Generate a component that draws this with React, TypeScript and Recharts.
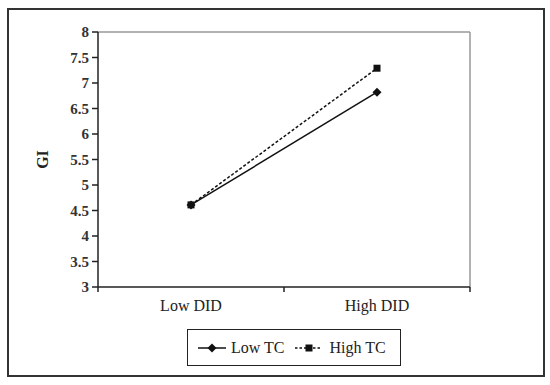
import React from 'react';
import { LineChart, Line, XAxis, YAxis, ReferenceLine } from 'recharts';

// categories and series values
const CATEGORIES = ['Low DID', 'High DID'];
const LOW_TC = [4.61, 6.82];
const HIGH_TC = [4.61, 7.29];
const Y_TICKS = [3, 3.5, 4, 4.5, 5, 5.5, 6, 6.5, 7, 7.5, 8];

// categories sit at odd positions, band edges at even ones
const chartData = CATEGORIES.map((name, i) => ({
  pos: i * 2 + 1,
  name,
  lowTC: LOW_TC[i],
  highTC: HIGH_TC[i],
}));

const FONT = '"Liberation Serif", "Times New Roman", serif';

const Diamond = (props: any) => {
  const { cx, cy } = props;
  if (cx == null || cy == null) return null;
  const r = 4.5;
  return <path d={`M${cx},${cy - r}L${cx + r},${cy}L${cx},${cy + r}L${cx - r},${cy}Z`} fill="#111" />;
};

const Square = (props: any) => {
  const { cx, cy } = props;
  if (cx == null || cy == null) return null;
  const s = 7;
  return <rect x={cx - s / 2} y={cy - s / 2} width={s} height={s} fill="#111" />;
};

const CategoryTick = (props: any) => {
  const { x, y, payload } = props;
  const v = payload.value;
  if (v % 2 === 0) {
    return <line x1={x} x2={x} y1={y} y2={y + 5} stroke="#222" strokeWidth={1.5} />;
  }
  const row = chartData.find((d) => d.pos === v);
  return (
    <text x={x} y={y + 24} textAnchor="middle" fontFamily={FONT} fontSize={16} fill="#222">
      {row ? row.name : ''}
    </text>
  );
};

const LegendBox = () => (
  <div
    style={{
      position: 'absolute',
      left: 187,
      top: 329,
      width: 212,
      height: 35,
      border: '1.5px solid #222',
      display: 'flex',
      alignItems: 'center',
      fontFamily: FONT,
      fontSize: 16,
      color: '#222',
      background: '#fff',
    }}
  >
    <svg width={28} height={12} style={{ marginLeft: 10 }}>
      <line x1={0} x2={28} y1={6} y2={6} stroke="#111" strokeWidth={1.5} />
      <Diamond cx={14} cy={6} />
    </svg>
    <span style={{ marginLeft: 5 }}>Low TC</span>
    <svg width={27} height={12} style={{ marginLeft: 11 }}>
      <line x1={0} x2={27} y1={6} y2={6} stroke="#111" strokeWidth={1.5} strokeDasharray="2.5 2" />
      <Square cx={14} cy={6} />
    </svg>
    <span style={{ marginLeft: 7 }}>High TC</span>
  </div>
);

export default function App() {
  return (
    <div style={{ position: 'absolute', left: 0, top: 0, width: 550, height: 385, background: '#fff' }}>
      <div
        style={{
          position: 'absolute',
          left: 7,
          top: 8,
          width: 534,
          height: 365,
          border: '2px solid #333',
        }}
      />
      <div style={{ position: 'absolute', left: 0, top: 0 }}>
        <LineChart
          width={550}
          height={385}
          data={chartData}
          margin={{ top: 32, right: 80, bottom: 0, left: 0 }}
        >
          <XAxis
            dataKey="pos"
            type="number"
            domain={[0, 4]}
            ticks={[0, 1, 2, 3, 4]}
            interval={0}
            height={98}
            axisLine={{ stroke: '#222', strokeWidth: 1.5 }}
            tickLine={false}
            tickSize={0}
            tickMargin={0}
            tick={<CategoryTick />}
          />
          <YAxis
            type="number"
            domain={[3, 8]}
            ticks={Y_TICKS}
            interval={0}
            width={98}
            axisLine={{ stroke: '#222', strokeWidth: 1.5 }}
            tickLine={{ stroke: '#222', strokeWidth: 1.5 }}
            tickSize={6}
            tickMargin={3}
            tick={{ fontFamily: FONT, fontSize: 15, fontWeight: 'bold', fill: '#333' }}
            label={{
              value: 'GI',
              angle: -90,
              position: 'insideLeft',
              offset: 42,
              style: { fontFamily: FONT, fontSize: 16, fontWeight: 'bold', fill: '#222', textAnchor: 'middle' },
            }}
          />
          <ReferenceLine y={8} stroke="#999" strokeWidth={1.5} />
          <ReferenceLine x={4} stroke="#999" strokeWidth={1.5} />
          <Line
            dataKey="lowTC"
            name="Low TC"
            stroke="#111"
            strokeWidth={1.5}
            dot={<Diamond />}
            activeDot={false}
            isAnimationActive={false}
          />
          <Line
            dataKey="highTC"
            name="High TC"
            stroke="#111"
            strokeWidth={1.5}
            strokeDasharray="3 2"
            dot={<Square />}
            activeDot={false}
            isAnimationActive={false}
          />
        </LineChart>
      </div>
      <LegendBox />
    </div>
  );
}
